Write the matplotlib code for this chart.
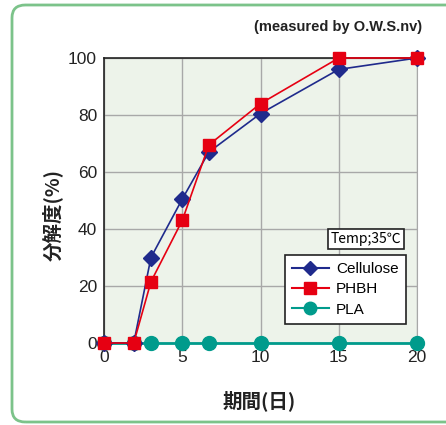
import matplotlib
matplotlib.use("Agg")
import matplotlib.pyplot as plt
from matplotlib.patches import FancyBboxPatch
from matplotlib.lines import Line2D

days = [0, 1.9, 3, 5, 6.7, 10, 15, 20]
cellulose = [0, 0, 30, 50.5, 67, 80.5, 96, 100]
phbh = [0, 0, 21.5, 43, 69.5, 84, 100, 100]
pla = [0, 0, 0, 0, 0, 0, 0, 0]
xticks = [0, 5, 10, 15, 20]
yticks = [0, 20, 40, 60, 80, 100]

narrow = ['Liberation Sans Narrow', 'Liberation Sans', 'DejaVu Sans']
cjk = ['Noto Sans CJK JP', 'DejaVu Sans']

fig = plt.figure(figsize=(4.46, 4.25), dpi=100)
fig.patch.set_facecolor('white')

border = FancyBboxPatch((12/446, 1-422/425), (460-12)/446, (422-5)/425,
                        boxstyle="round,pad=0,rounding_size=0.03",
                        transform=fig.transFigure, facecolor='none',
                        edgecolor='#7cc38a', linewidth=2, clip_on=False)
fig.patches.append(border)

ax = fig.add_axes([104/446, 1-343/425, (417-104)/446, (343-58)/425])
ax.set_facecolor('#edf3ea')
ax.set_xlim(0, 20)
ax.set_ylim(0, 100)
ax.set_xticks(xticks)
ax.set_yticks(yticks)
ax.grid(True, color='#a8a8a8', linewidth=1)
ax.set_axisbelow(True)
ax.tick_params(length=0, pad=5, labelsize=12.5, colors='#222222')
for lab in ax.get_xticklabels() + ax.get_yticklabels():
    lab.set_family(narrow)
for s in ['top', 'left']:
    ax.spines[s].set_color('#222222')
    ax.spines[s].set_linewidth(1.2)
ax.spines['right'].set_color('#a8a8a8')
ax.spines['bottom'].set_color('#a8a8a8')

ax.plot(days, pla, color='#009b8c', lw=2, marker='o', ms=10, clip_on=False, zorder=3, label='PLA')
ax.plot(days, cellulose, color='#1f2a8c', lw=1.2, marker='D', ms=8, clip_on=False, zorder=4, label='Cellulose')
ax.plot(days, phbh, color='#e60012', lw=1.2, marker='s', ms=9, clip_on=False, zorder=5, label='PHBH')

handles = [
    Line2D([], [], color='#1f2a8c', lw=1.5, marker='D', ms=7.5),
    Line2D([], [], color='#e60012', lw=1.5, marker='s', ms=8.5),
    Line2D([], [], color='#009b8c', lw=1.5, marker='o', ms=9),
]
leg = ax.legend(handles, ['Cellulose', 'PHBH', 'PLA'], loc='upper left',
                bbox_to_anchor=((285-104)/313, (343-255)/285),
                borderaxespad=0,
                fancybox=False, edgecolor='#222222', framealpha=1,
                handlelength=2.4, borderpad=0.45, labelspacing=0.42,
                handletextpad=0.5, prop={'family': narrow, 'size': 11})
leg.get_frame().set_linewidth(1.2)

fig.text(366/446, 1-239/425, 'Temp;35\u2103', ha='center', va='center',
         fontsize=10, family=cjk,
         bbox=dict(boxstyle='square,pad=0.2', facecolor='white', edgecolor='#222222', lw=1.2))

fig.text(422/446, 1-27/425, '(measured by O.W.S.nv)', ha='right', va='center',
         fontsize=10.5, fontweight='bold', family=narrow, color='#222222')

fig.text(52/446, 1-215/425, '分解度(%)', rotation=90, ha='center', va='center',
         fontsize=14, fontweight='bold', family=cjk, color='#222222')
fig.text(259/446, 1-401/425, '期間(日)', ha='center', va='center',
         fontsize=14, fontweight='bold', family=cjk, color='#222222')

fig.savefig('out.png', dpi=100)
